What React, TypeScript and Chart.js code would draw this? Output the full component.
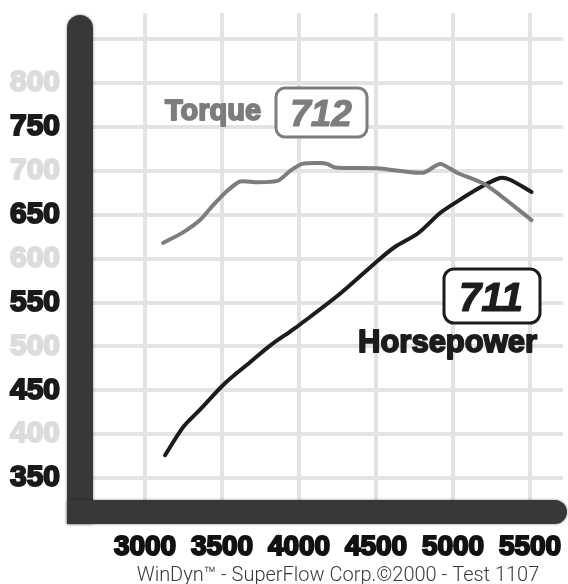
import React, { useEffect, useRef } from "react";
import { Chart, registerables } from "chart.js";

Chart.register(...registerables);

// ---- Data ----
const xTickValues = [3000, 3500, 4000, 4500, 5000, 5500];
const yTickValues = [350, 400, 450, 500, 550, 600, 650, 700, 750, 800, 850];
const yDarkLabels = [350, 450, 550, 650, 750];

const torqueRpm = [3117, 3247, 3357, 3442, 3519, 3617, 3727, 3864, 3942, 4019, 4136, 4182, 4234, 4506, 4805, 4916, 5026, 5195, 5286, 5510];
const torqueValues = [618, 630, 644, 661, 675, 688, 687, 689, 700, 708, 709, 708, 704, 703, 698, 708, 698, 686, 675, 644];

const hpRpm = [3130, 3247, 3357, 3519, 3682, 3812, 3942, 4006, 4266, 4526, 4636, 4773, 4916, 5026, 5175, 5305, 5370, 5510];
const hpValues = [376, 408, 428, 458, 482, 501, 517, 525, 560, 600, 615, 629, 652, 665, 681, 692, 690, 676];

const torquePeakLabel = "712";
const hpPeakLabel = "711";
const torqueName = "Torque";
const hpName = "Horsepower";
const footerText = "WinDyn\u2122 - SuperFlow Corp.\u00A92000 - Test 1107";

const FONT = "'Liberation Sans', Arial, sans-serif";
const TORQUE_COLOR = "#7d7d7d";
const HP_COLOR = "#1c1c1c";
const AXIS_COLOR = "#383838";
const GRID_COLOR = "#e3e3e3";
const LIGHT_LABEL = "#dcdcdc";

const axisBarsPlugin = {
  id: "axisBars",
  afterDraw(chart: any) {
    const { ctx, chartArea } = chart;
    const w = 26;
    const left = chartArea.left - w;
    ctx.save();
    ctx.fillStyle = AXIS_COLOR;
    ctx.shadowColor = "rgba(0,0,0,0.45)";
    ctx.shadowBlur = 3;
    ctx.beginPath();
    (ctx as any).roundRect(left, chartArea.top + 2, w, chartArea.bottom + 24 - chartArea.top - 2, [13, 13, 0, 0]);
    ctx.fill();
    ctx.beginPath();
    (ctx as any).roundRect(left, chartArea.bottom, chartArea.right + 4 - left, 24, [0, 12, 12, 0]);
    ctx.fill();
    ctx.restore();
  },
};

const annotationsPlugin = {
  id: "annotations",
  afterDraw(chart: any) {
    const { ctx } = chart;
    ctx.save();
    ctx.lineJoin = "round";
    // Torque label
    ctx.textBaseline = "alphabetic";
    ctx.textAlign = "left";
    ctx.font = `bold 29px ${FONT}`;
    ctx.fillStyle = TORQUE_COLOR;
    ctx.strokeStyle = TORQUE_COLOR;
    ctx.lineWidth = 1.8;
    ctx.fillText(torqueName, 165, 120);
    ctx.strokeText(torqueName, 165, 120);
    // Torque box
    ctx.lineWidth = 3;
    ctx.fillStyle = "#ffffff";
    ctx.beginPath();
    ctx.roundRect(276, 88, 91, 49, 9);
    ctx.fill();
    ctx.stroke();
    ctx.font = `italic bold 37px ${FONT}`;
    ctx.textAlign = "center";
    ctx.fillStyle = TORQUE_COLOR;
    ctx.lineWidth = 1.2;
    ctx.fillText(torquePeakLabel, 321, 126);
    ctx.strokeText(torquePeakLabel, 321, 126);

    // HP box
    ctx.strokeStyle = HP_COLOR;
    ctx.lineWidth = 3;
    ctx.fillStyle = "#ffffff";
    ctx.beginPath();
    ctx.roundRect(444, 269, 96, 54, 10);
    ctx.fill();
    ctx.stroke();
    ctx.font = `italic bold 40px ${FONT}`;
    ctx.fillStyle = HP_COLOR;
    ctx.lineWidth = 1.2;
    ctx.fillText(hpPeakLabel, 491, 311);
    ctx.strokeText(hpPeakLabel, 491, 311);
    // Horsepower label
    ctx.textAlign = "left";
    ctx.font = `bold 31px ${FONT}`;
    ctx.lineWidth = 1.8;
    ctx.fillText(hpName, 358, 352);
    ctx.strokeText(hpName, 358, 352);

    // footer
    ctx.textAlign = "center";
    ctx.font = `300 20px Roboto, 'Liberation Sans', sans-serif`;
    ctx.fillStyle = "#3a3a3a";
    ctx.fillText(footerText, 338, 581);
    ctx.restore();
  },
};

export default function App() {
  const ref = useRef<HTMLCanvasElement | null>(null);

  useEffect(() => {
    if (!ref.current) return;
    const chart = new Chart(ref.current, {
      type: "line",
      data: {
        datasets: [
          {
            label: torqueName,
            data: torqueRpm.map((x, i) => ({ x, y: torqueValues[i] })),
            borderColor: TORQUE_COLOR,
            borderWidth: 4,
            pointRadius: 0,
            tension: 0.25,
            borderCapStyle: "round",
            borderJoinStyle: "round",
            fill: false,
          },
          {
            label: hpName,
            data: hpRpm.map((x, i) => ({ x, y: hpValues[i] })),
            borderColor: HP_COLOR,
            borderWidth: 4,
            pointRadius: 0,
            tension: 0.3,
            borderCapStyle: "round",
            borderJoinStyle: "round",
            fill: false,
          },
        ],
      },
      options: {
        animation: false,
        responsive: true,
        maintainAspectRatio: false,
        layout: { padding: { left: 0, top: 13, right: 5, bottom: 0 } },
        plugins: {
          legend: { display: false },
          tooltip: { enabled: false },
          title: { display: false },
        },
        scales: {
          x: {
            type: "linear",
            min: 2662,
            max: 5714,
            afterBuildTicks: (s: any) => {
              s.ticks = xTickValues.map((v) => ({ value: v }));
            },
            afterFit: (s: any) => {
              s.height = 84;
              s.paddingLeft = 0;
              s.paddingRight = 0;
            },
            grid: { color: GRID_COLOR, lineWidth: 4, drawTicks: false },
            border: { display: false },
            ticks: {
              padding: 33,
              color: "#111111",
              font: { family: FONT, size: 28, weight: "bold", lineHeight: 1 },
              textStrokeColor: "#111111",
              textStrokeWidth: 2,
              maxRotation: 0,
              autoSkip: false,
              callback: (v: any) => String(v),
            },
          },
          y: {
            type: "linear",
            min: 325,
            max: 880,
            afterBuildTicks: (s: any) => {
              s.ticks = yTickValues.map((v) => ({ value: v }));
            },
            afterFit: (s: any) => {
              s.width = 93;
              s.paddingTop = 0;
              s.paddingBottom = 0;
            },
            grid: { color: GRID_COLOR, lineWidth: 4, drawTicks: false },
            border: { display: false },
            ticks: {
              padding: 33,
              autoSkip: false,
              font: { family: FONT, size: 30, weight: "bold", lineHeight: 1 },
              color: (ctx: any) => (yDarkLabels.includes(ctx.tick?.value) ? "#1a1a1a" : LIGHT_LABEL),
              textStrokeColor: (ctx: any) => (yDarkLabels.includes(ctx.tick?.value) ? "#1a1a1a" : LIGHT_LABEL),
              textStrokeWidth: 2,
              callback: (v: any) => (v === 850 ? "" : String(v)),
            },
          },
        },
      },
      plugins: [axisBarsPlugin, annotationsPlugin],
    });
    return () => chart.destroy();
  }, []);

  return (
    <div style={{ position: "fixed", left: 0, top: 0, width: 568, height: 584, background: "#ffffff" }}>
      <canvas ref={ref} />
    </div>
  );
}
